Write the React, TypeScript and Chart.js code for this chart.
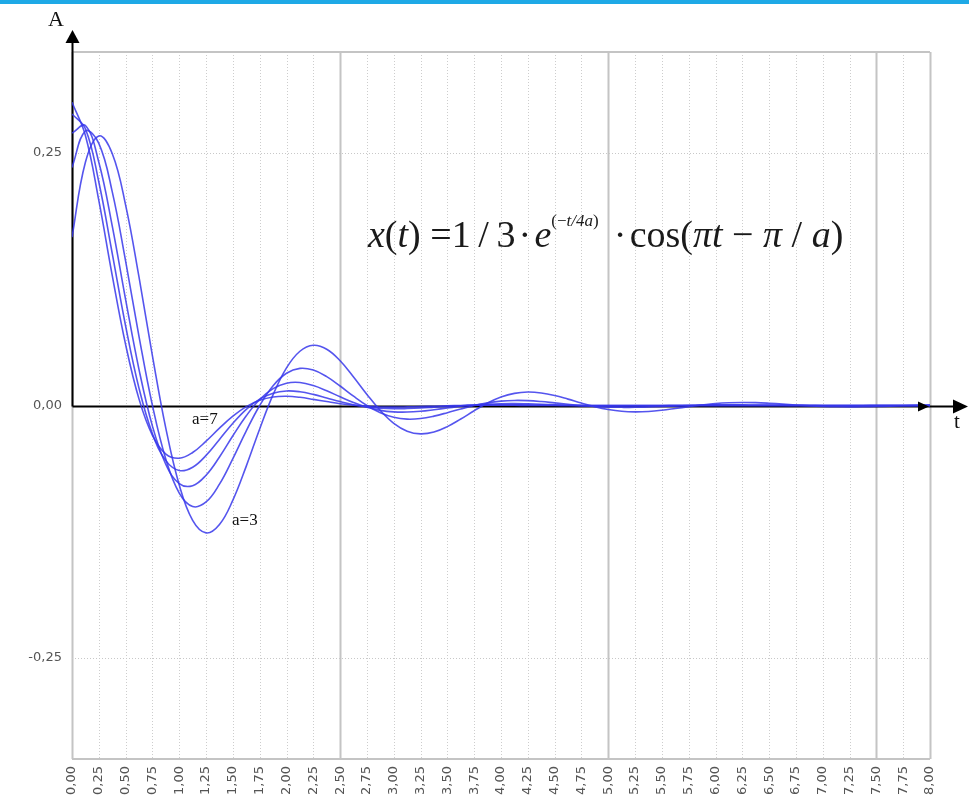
import React, { useEffect, useRef } from 'react';
import { Chart, registerables } from 'chart.js';

Chart.register(...registerables);

// time axis (t)
const T = [
  0, 0.125, 0.25, 0.375, 0.5, 0.625, 0.75, 0.875, 1, 1.125, 1.25, 1.375, 1.5, 1.625, 1.75, 1.875,
  2, 2.125, 2.25, 2.375, 2.5, 2.625, 2.75, 2.875, 3, 3.125, 3.25, 3.375, 3.5, 3.625, 3.75, 3.875,
  4, 4.125, 4.25, 4.375, 4.5, 4.625, 4.75, 4.875, 5, 5.125, 5.25, 5.375, 5.5, 5.625, 5.75, 5.875,
  6, 6.125, 6.25, 6.375, 6.5, 6.625, 6.75, 6.875, 7, 7.125, 7.25, 7.375, 7.5, 7.625, 7.75, 7.875,
  8,
];

// amplitude A for a = 3 .. 7
const A3 = [
  0.1667, 0.2408, 0.2669, 0.2495, 0.1984, 0.127, 0.0492, -0.0226, -0.0787, -0.1137, -0.1261, -0.1178, -0.0937, -0.06, -0.0232, 0.0107,
  0.0372, 0.0537, 0.0596, 0.0557, 0.0443, 0.0283, 0.011, -0.005, -0.0176, -0.0254, -0.0281, -0.0263, -0.0209, -0.0134, -0.0052, 0.0024,
  0.0083, 0.012, 0.0133, 0.0124, 0.0099, 0.0063, 0.0024, -0.0011, -0.0039, -0.0057, -0.0063, -0.0059, -0.0047, -0.003, -0.0012, 0.0005,
  0.0019, 0.0027, 0.003, 0.0028, 0.0022, 0.0014, 0.0005, -0.0003, -0.0009, -0.0013, -0.0014, -0.0013, -0.001, -0.0007, -0.0003, 0.0001,
  0.0004,
];
const A4 = [
  0.2357, 0.2718, 0.2596, 0.2117, 0.143, 0.0683, 0, -0.0532, -0.0867, -0.1, -0.0955, -0.0779, -0.0526, -0.0251, 0, 0.0196,
  0.0319, 0.0368, 0.0351, 0.0286, 0.0193, 0.0092, 0, -0.0072, -0.0117, -0.0135, -0.0129, -0.0105, -0.0071, -0.0034, 0, 0.0026,
  0.0043, 0.005, 0.0048, 0.0039, 0.0026, 0.0013, 0, -0.001, -0.0016, -0.0018, -0.0018, -0.0014, -0.001, -0.0005, 0, 0.0004,
  0.0006, 0.0007, 0.0006, 0.0005, 0.0004, 0.0002, 0, -0.0001, -0.0002, -0.0002, -0.0002, -0.0002, -0.0001, -0.0001, 0, 0,
  0.0001,
];
const A5 = [
  0.2697, 0.2772, 0.2409, 0.1779, 0.1049, 0.0356, -0.0204, -0.0583, -0.0773, -0.0794, -0.069, -0.051, -0.03, -0.0102, 0.0059, 0.0167,
  0.0221, 0.0228, 0.0198, 0.0146, 0.0086, 0.0029, -0.0017, -0.0048, -0.0063, -0.0065, -0.0057, -0.0042, -0.0025, -0.0008, 0.0005, 0.0014,
  0.0018, 0.0019, 0.0016, 0.0012, 0.0007, 0.0002, -0.0001, -0.0004, -0.0005, -0.0005, -0.0004, -0.0003, -0.0002, -0.0001, 0, 0.0001,
  0.0001, 0.0001, 0.0001, 0, 0, 0, 0, 0, 0, 0, 0, 0, 0, 0, 0, 0,
  0,
];
const A6 = [
  0.2887, 0.274, 0.2213, 0.1507, 0.0787, 0.017, -0.028, -0.0546, -0.0644, -0.0611, -0.0494, -0.0336, -0.0176, -0.0038, 0.0063, 0.0122,
  0.0144, 0.0136, 0.011, 0.0075, 0.0039, 0.0008, -0.0014, -0.0027, -0.0032, -0.003, -0.0025, -0.0017, -0.0009, -0.0002, 0.0003, 0.0006,
  0.0007, 0.0007, 0.0005, 0.0004, 0.0002, 0, -0.0001, -0.0001, -0.0001, -0.0001, 0, 0, 0, 0, 0, 0,
  0, 0, 0, 0, 0, 0, 0, 0, 0, 0, 0, 0, 0, 0, 0, 0,
  0,
];
const A7 = [
  0.3003, 0.2674, 0.2031, 0.1289, 0.0603, 0.0063, -0.0296, -0.0481, -0.0522, -0.0465, -0.0353, -0.0224, -0.0105, -0.0011, 0.0051, 0.0084,
  0.0091, 0.0081, 0.0061, 0.0039, 0.0018, 0.0002, -0.0009, -0.0015, -0.0016, -0.0014, -0.0011, -0.0007, -0.0003, 0, 0.0002, 0.0003,
  0.0003, 0.0002, 0.0001, 0, 0, 0, 0, 0, 0, 0, 0, 0, 0, 0, 0, 0,
  0, 0, 0, 0, 0, 0, 0, 0, 0, 0, 0, 0, 0, 0, 0, 0,
  0,
];

const SERIES = [A3, A4, A5, A6, A7];
const SERIES_NAMES = ['a=3', 'a=4', 'a=5', 'a=6', 'a=7'];
const Y_TICKS = [-0.25, 0, 0.25];
const MAJOR_X = [2.5, 5, 7.5, 8];

const fmt = (v: number) => v.toFixed(2).replace('.', ',');
const SERIF = '"Liberation Serif", "Times New Roman", serif';
const SANS = '"DejaVu Sans", Verdana, sans-serif';

function drawFormula(ctx: CanvasRenderingContext2D, x0: number, base: number, size: number) {
  const sup = Math.round(size * 0.46);
  const segs: { t: string; it?: boolean; sup?: boolean }[] = [
    { t: 'x', it: true },
    { t: '(' },
    { t: 't', it: true },
    { t: ')' },
    { t: ' =1\u2009/\u20093\u200A·\u200A' },
    { t: 'e', it: true },
    { t: '(−', sup: true },
    { t: 't/4', it: true, sup: true },
    { t: 'a', it: true, sup: true },
    { t: ')', sup: true },
    { t: '\u2009\u2009·\u200Acos(' },
    { t: 'πt', it: true },
    { t: ' − ' },
    { t: 'π', it: true },
    { t: ' / ' },
    { t: 'a', it: true },
    { t: ')' },
  ];
  let cx = x0;
  ctx.fillStyle = '#1a1a1a';
  ctx.textAlign = 'left';
  ctx.textBaseline = 'alphabetic';
  for (const s of segs) {
    const fs = s.sup ? sup : size;
    ctx.font = `${s.it ? 'italic ' : ''}${fs}px ${SERIF}`;
    ctx.fillText(s.t, cx, s.sup ? base - size * 0.55 : base);
    cx += ctx.measureText(s.t).width;
  }
}

const decorPlugin = {
  id: 'decor',
  beforeDraw(chart: any) {
    const { ctx, width, height } = chart;
    ctx.save();
    ctx.fillStyle = '#ffffff';
    ctx.fillRect(0, 0, width, height);
    ctx.fillStyle = '#1ea9e6';
    ctx.fillRect(0, 0, width, 4);
    ctx.restore();
  },
  beforeDatasetsDraw(chart: any) {
    const { ctx, chartArea: ca, scales } = chart;
    const xs = scales.x;
    const ys = scales.y;
    ctx.save();
    // vertical grid lines
    xs.ticks.forEach((tk: any) => {
      const v = tk.value;
      const px = Math.round(xs.getPixelForValue(v)) + 0.5;
      ctx.beginPath();
      if (v === 0 || MAJOR_X.includes(v)) {
        ctx.setLineDash([]);
        ctx.strokeStyle = '#c4c4c4';
        ctx.lineWidth = 2;
      } else {
        ctx.setLineDash([1, 2]);
        ctx.strokeStyle = '#cdcdcd';
        ctx.lineWidth = 1;
      }
      ctx.moveTo(px, ca.top);
      ctx.lineTo(px, ca.bottom);
      ctx.stroke();
    });
    // horizontal grid lines
    ys.ticks.forEach((tk: any) => {
      if (tk.value === 0) return;
      const py = Math.round(ys.getPixelForValue(tk.value)) + 0.5;
      ctx.beginPath();
      ctx.setLineDash([1, 2]);
      ctx.strokeStyle = '#c8c8c8';
      ctx.lineWidth = 1;
      ctx.moveTo(ca.left, py);
      ctx.lineTo(ca.right, py);
      ctx.stroke();
    });
    ctx.setLineDash([]);
    ctx.strokeStyle = '#c4c4c4';
    ctx.lineWidth = 2;
    ctx.beginPath();
    ctx.moveTo(ca.left, ca.top);
    ctx.lineTo(ca.right, ca.top);
    ctx.moveTo(ca.left, ca.bottom);
    ctx.lineTo(ca.right, ca.bottom);
    ctx.stroke();

    // black axes
    const x0 = Math.round(xs.getPixelForValue(0)) + 0.5;
    const y0 = Math.round(ys.getPixelForValue(0)) + 0.5;
    ctx.strokeStyle = '#000';
    ctx.lineWidth = 2;
    ctx.beginPath();
    ctx.moveTo(x0, y0);
    ctx.lineTo(x0, 40);
    ctx.moveTo(x0, y0);
    ctx.lineTo(960, y0);
    ctx.stroke();
    ctx.restore();
  },
  afterDatasetsDraw(chart: any) {
    const { ctx, scales } = chart;
    const xs = scales.x;
    const ys = scales.y;
    const x0 = Math.round(xs.getPixelForValue(0)) + 0.5;
    const y0 = Math.round(ys.getPixelForValue(0)) + 0.5;
    const x8 = xs.getPixelForValue(8);
    ctx.save();
    ctx.fillStyle = '#000';
    // y arrow
    ctx.beginPath();
    ctx.moveTo(x0, 30);
    ctx.lineTo(x0 - 7, 43);
    ctx.lineTo(x0 + 7, 43);
    ctx.closePath();
    ctx.fill();
    // x arrows
    ctx.beginPath();
    ctx.moveTo(x8 - 1, y0);
    ctx.lineTo(x8 - 12, y0 - 5);
    ctx.lineTo(x8 - 12, y0 + 5);
    ctx.closePath();
    ctx.fill();
    ctx.beginPath();
    ctx.moveTo(968, y0);
    ctx.lineTo(953, y0 - 7);
    ctx.lineTo(953, y0 + 7);
    ctx.closePath();
    ctx.fill();

    // axis names
    ctx.fillStyle = '#111';
    ctx.textAlign = 'center';
    ctx.textBaseline = 'alphabetic';
    ctx.font = `22px ${SERIF}`;
    ctx.fillText('A', 56, 26);
    ctx.font = `21px ${SERIF}`;
    ctx.fillText('t', 957, 428);

    // curve labels
    ctx.font = `17px ${SERIF}`;
    ctx.textAlign = 'left';
    ctx.fillText(SERIES_NAMES[4], 192, 424);
    ctx.fillText(SERIES_NAMES[0], 232, 525);

    drawFormula(ctx, 368, 247, 38);
    ctx.restore();
  },
};

export default function App() {
  const ref = useRef<HTMLCanvasElement | null>(null);
  useEffect(() => {
    if (!ref.current) return;
    const chart = new Chart(ref.current, {
      type: 'line',
      data: {
        datasets: SERIES.map((vals, si) => ({
          label: SERIES_NAMES[si],
          data: vals.map((v, i) => ({ x: T[i], y: v })),
          borderColor: 'rgba(55, 55, 235, 0.85)',
          borderWidth: 1.6,
          pointRadius: 0,
          tension: 0.4,
          fill: false,
        })),
      },
      options: {
        animation: false,
        responsive: true,
        maintainAspectRatio: false,
        layout: { padding: { left: 0, top: 52, right: 39, bottom: 0 } },
        plugins: { legend: { display: false }, tooltip: { enabled: false } },
        scales: {
          x: {
            type: 'linear',
            min: 0,
            max: 8,
            grid: { display: false, drawTicks: false },
            border: { display: false },
            ticks: {
              stepSize: 0.25,
              autoSkip: false,
              maxRotation: 90,
              minRotation: 90,
              padding: 7,
              color: '#555',
              font: { family: SANS, size: 13 },
              callback: (v: any) => fmt(Number(v)),
            },
            afterFit: (s: any) => {
              s.height = 40;
            },
          },
          y: {
            type: 'linear',
            min: -0.35,
            max: 0.35,
            grid: { display: false, drawTicks: false },
            border: { display: false },
            afterBuildTicks: (s: any) => {
              s.ticks = Y_TICKS.map((v) => ({ value: v }));
            },
            ticks: {
              padding: 10,
              color: '#555',
              font: { family: SANS, size: 13 },
              callback: (v: any) => fmt(Number(v)),
            },
            afterFit: (s: any) => {
              s.width = 72;
            },
          },
        },
      },
      plugins: [decorPlugin],
    });
    return () => chart.destroy();
  }, []);
  return (
    <div style={{ position: 'absolute', left: 0, top: 0, width: 969, height: 799 }}>
      <canvas ref={ref} />
    </div>
  );
}
